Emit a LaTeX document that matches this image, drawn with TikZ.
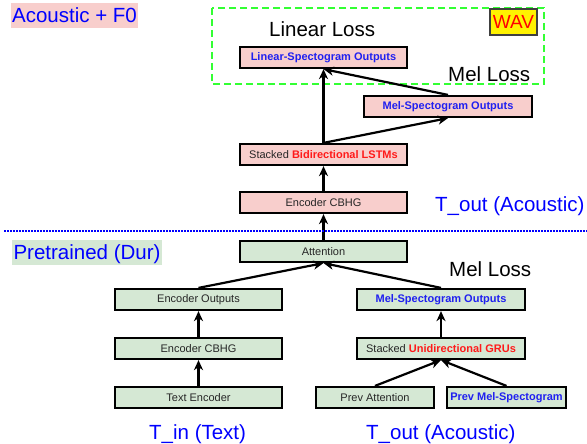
\documentclass[tikz,border=0pt]{standalone}
\usepackage{fontspec}
\setmainfont{Liberation Sans}
\usepackage{xcolor}
\usetikzlibrary{arrows.meta, positioning}

\definecolor{pinkfill}{HTML}{F8CECC}
\definecolor{greenfill}{HTML}{D5E8D4}
\definecolor{labelblue}{HTML}{0000FF}
\definecolor{boldblue}{HTML}{2020F0}
\definecolor{boldred}{HTML}{FF1A1A}
\definecolor{lossgreen}{HTML}{33FF33}

\newcommand{\outtext}[1]{\textbf{\color{boldblue}#1}}
\newcommand{\rnntext}[1]{\textbf{\color{boldred}#1}}

\begin{document}
\begin{tikzpicture}[x=1pt, y=-1pt,
  box/.style={draw=black, line width=2.2pt, minimum height=21pt, inner sep=0pt,
    font=\fontsize{11}{13}\selectfont, text=black!85},
  pinkbox/.style={box, fill=pinkfill},
  greenbox/.style={box, fill=greenfill},
  biglabel/.style={anchor=base west, inner sep=0pt, font=\fontsize{20.5}{24}\selectfont},
  tagbox/.style={inner sep=0pt, text height=15pt, text depth=0pt, minimum height=25pt,
    text=labelblue, font=\fontsize{20.5}{24}\selectfont},
  link/.style={line width=2.2pt, -{Stealth[length=10pt, width=9pt, inset=3pt]}}]
\useasboundingbox (0,0) rectangle (587,444);

% loss frame
\draw[lossgreen, line width=2.2pt, dash pattern=on 7pt off 4pt] (212,8) rectangle (544,84);
\node[draw=black!75, line width=1.2pt, fill=yellow, text=red, inner sep=0pt,
  minimum width=47pt, minimum height=26pt, font=\fontsize{19}{22}\selectfont] (wav) at (513.5,22) {WAV};

% acoustic model
\node[pinkbox, minimum width=167pt] (linout) at (323.5,57.5) {\outtext{Linear-Spectogram Outputs}};
\node[pinkbox, minimum width=168pt] (melout) at (448,106.5) {\outtext{Mel-Spectogram Outputs}};
\node[pinkbox, minimum width=167pt] (lstm) at (323.5,154.5) {Stacked \rnntext{Bidirectional LSTMs}};
\node[pinkbox, minimum width=167pt] (acbhg) at (323.5,202.5) {Encoder CBHG};

% duration model
\node[greenbox, minimum width=167pt] (attn) at (323.5,251.5) {Attention};
\node[greenbox, minimum width=167pt] (encout) at (198.5,299.5) {Encoder Outputs};
\node[greenbox, minimum width=168pt] (melin) at (441,299.5) {\outtext{Mel-Spectogram Outputs}};
\node[greenbox, minimum width=167pt] (cbhg) at (198.5,348.5) {Encoder CBHG};
\node[greenbox, minimum width=168pt] (gru) at (441,348.5) {Stacked \rnntext{Unidirectional GRUs}};
\node[greenbox, minimum width=167pt] (textenc) at (198.5,397.5) {Text Encoder};
\node[greenbox, minimum width=118pt] (prevattn) at (375,397.5) {Prev Attention};
\node[greenbox, minimum width=119pt] (prevmel) at (506.5,397.5) {\outtext{Prev Mel-Spectogram}};

% connectors
\draw[link] (attn.north) -- (acbhg.south);
\draw[link] (acbhg.north) -- (lstm.south);
\draw[link] (lstm.north) -- (linout.south);
\draw[link] (lstm.north) -- (melout.south);
\draw[link] (melout.north) -- (linout.south);
\draw[link] (encout.north) -- (attn.south);
\draw[link] (melin.north) -- (attn.south);
\draw[link] (textenc.north) -- (cbhg.south);
\draw[link] (cbhg.north) -- (encout.south);
\draw[link] (gru.north) -- (melin.south);
\draw[link] (prevattn.north) -- (gru.south);
\draw[link] (prevmel.north) -- (gru.south);

% separator
\draw[labelblue, line width=1.8pt, dash pattern=on 1.5pt off 1.5pt] (4,231) -- (587,231);

% labels
\node[tagbox, fill=pinkfill, minimum width=127pt] (acoustictag) at (74.5,15.5) {Acoustic + F0};
\node[tagbox, fill=greenfill, minimum width=150pt] (pretraintag) at (87,252) {Pretrained (Dur)};
\node[biglabel] (linloss) at (269,37) {Linear Loss};
\node[biglabel] (melloss) at (448,82) {Mel Loss};
\node[biglabel] (melloss2) at (449,276) {Mel Loss};
\node[biglabel, text=labelblue] (toutright) at (435,211) {T\_out (Acoustic)};
\node[biglabel, text=labelblue] (tin) at (149,439) {T\_in (Text)};
\node[biglabel, text=labelblue] (toutbottom) at (366,439) {T\_out (Acoustic)};
\end{tikzpicture}
\end{document}
